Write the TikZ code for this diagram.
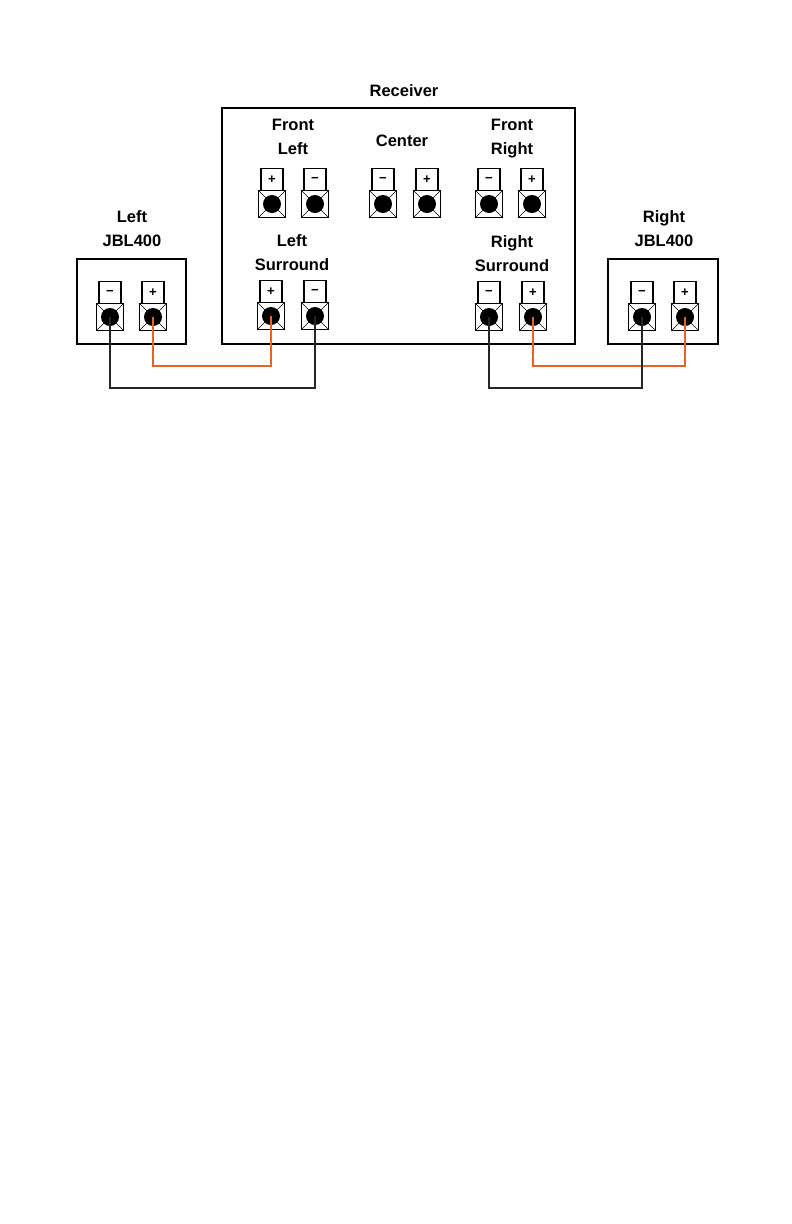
\documentclass[tikz,border=0pt]{standalone}
\usepackage{fontspec}
\setmainfont{Liberation Sans}
\definecolor{Wire_plus}{RGB}{232, 98, 40}
\tikzset{
    jack/.style={draw, line width=1.6pt, fill=white, minimum size=27pt, inner sep=0pt, outer sep=0pt},
    tag/.style={draw, line width=1.1pt, fill=white, minimum width=22pt, minimum height=22pt, inner sep=0pt, outer sep=0pt, font=\fontsize{13}{13}\selectfont\bfseries},
    title/.style={align=center, inner sep=0pt, font=\fontsize{16.5}{24}\selectfont\bfseries},
    panel/.style={line width=1.2pt},
    wire neg/.style={line width=1.3pt, black!85},
    wire pos/.style={line width=1.2pt, Wire_plus}
}
% name, x, y, sign
\newcommand{\terminal}[4]{
    \node[jack] (#1) at (#2,#3) {};
    \draw[line width=0.6pt] (#1.north west) -- (#1.south east) (#1.north east) -- (#1.south west);
    \fill (#1) circle (9pt);
    \node[tag, anchor=south] (#1tag) at (#1.north) {#4};
}
\begin{document}
\begin{tikzpicture}[x=1pt, y=-1pt]
    \useasboundingbox[fill=white] (0,0) rectangle (792,1224);

    %% Background
    \draw[panel] (222,108) rectangle (575,344);
    \draw[panel] (77,259) rectangle (186,344);
    \draw[panel] (608,259) rectangle (718,344);

    \node[title] (receiver) at (404,91) {Receiver};
    \node[title] (frontleft) at (293,137) {Front\\Left};
    \node[title] (center) at (402,141) {Center};
    \node[title] (frontright) at (512,139) {Front\\Right};
    \node[title] (leftsurround) at (292,253) {Left\\Surround};
    \node[title] (rightsurround) at (512,254) {Right\\Surround};
    \node[title] (leftspeaker) at (132,229) {Left\\JBL400};
    \node[title] (rightspeaker) at (664,229) {Right\\JBL400};

    %% Terminals
    \terminal{flp}{272}{204}{+}
    \terminal{fln}{315}{204}{−}
    \terminal{cn}{383}{204}{−}
    \terminal{cp}{427}{204}{+}
    \terminal{frn}{489}{204}{−}
    \terminal{frp}{532}{204}{+}
    \terminal{lsp}{271}{316}{+}
    \terminal{lsn}{315}{316}{−}
    \terminal{rsn}{489}{317}{−}
    \terminal{rsp}{533}{317}{+}
    \terminal{ljn}{110}{317}{−}
    \terminal{ljp}{153}{317}{+}
    \terminal{rjn}{642}{317}{−}
    \terminal{rjp}{685}{317}{+}

    %% Wires
    \coordinate (leftpos) at (200,366);
    \coordinate (leftneg) at (200,388);
    \coordinate (rightpos) at (600,366);
    \coordinate (rightneg) at (600,388);
    \draw[wire pos] (ljp.center) |- (leftpos) -| (lsp.center);
    \draw[wire neg] (ljn.center) |- (leftneg) -| (lsn.center);
    \draw[wire pos] (rsp.center) |- (rightpos) -| (rjp.center);
    \draw[wire neg] (rsn.center) |- (rightneg) -| (rjn.center);
\end{tikzpicture}
\end{document}
